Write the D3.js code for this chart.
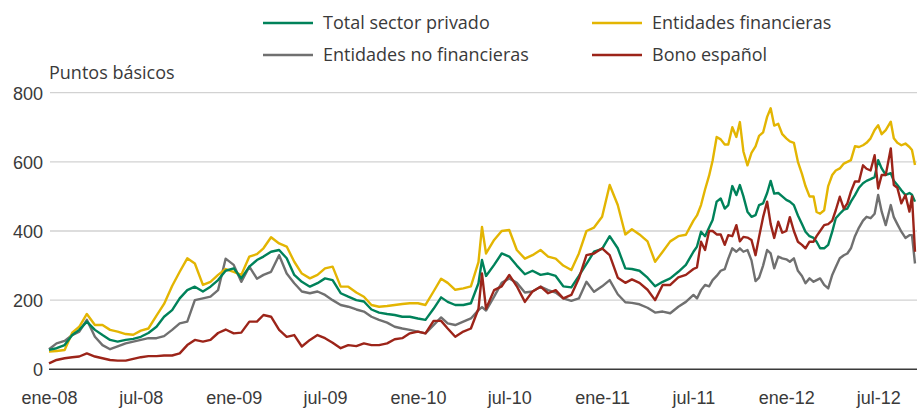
<!DOCTYPE html>
<html>
<head>
<meta charset="utf-8">
<script src="https://cdn.jsdelivr.net/npm/d3@7"></script>
<style>
  html, body { margin: 0; padding: 0; background: #fff; }
  svg { display: block; font-family: "Open Sans", sans-serif; }
  .lbl { fill: #3a3a3a; font-size: 18px; }
</style>
</head>
<body>
<svg id="chart" width="917" height="412"></svg>
<script>
// Fechas (quincenales hasta jun-11, semanales despues)
const dates = [
  // 2008
  "2008-01-01","2008-01-16","2008-02-01","2008-02-16","2008-03-01","2008-03-16","2008-04-01","2008-04-16",
  "2008-05-01","2008-05-16","2008-06-01","2008-06-16","2008-07-01","2008-07-16","2008-08-01","2008-08-16",
  "2008-09-01","2008-09-16","2008-10-01","2008-10-16","2008-11-01","2008-11-16","2008-12-01","2008-12-16",
  // 2009
  "2009-01-01","2009-01-16","2009-02-01","2009-02-16","2009-03-01","2009-03-16","2009-04-01","2009-04-16",
  "2009-05-01","2009-05-16","2009-06-01","2009-06-16","2009-07-01","2009-07-16","2009-08-01","2009-08-16",
  "2009-09-01","2009-09-16","2009-10-01","2009-10-16","2009-11-01","2009-11-16","2009-12-01","2009-12-16",
  // 2010
  "2010-01-01","2010-01-16","2010-02-01","2010-02-16","2010-03-01","2010-03-16","2010-04-01","2010-04-16",
  "2010-05-01","2010-05-08","2010-05-16","2010-06-01","2010-06-16","2010-07-01","2010-07-16","2010-08-01",
  "2010-08-16","2010-09-01","2010-09-16","2010-10-01","2010-10-16","2010-11-01","2010-11-16","2010-12-01",
  "2010-12-16",
  // 2011 H1
  "2011-01-01","2011-01-16","2011-02-01","2011-02-16","2011-03-01","2011-03-16","2011-04-01","2011-04-16",
  "2011-05-01","2011-05-16","2011-06-01","2011-06-16",
  // 2011 H2
  "2011-07-01","2011-07-08","2011-07-16","2011-07-24","2011-08-01","2011-08-08","2011-08-16","2011-08-24",
  "2011-09-01","2011-09-08","2011-09-16","2011-09-24","2011-10-01","2011-10-08","2011-10-16","2011-10-24",
  "2011-11-01","2011-11-08","2011-11-16","2011-11-24","2011-12-01","2011-12-08","2011-12-16","2011-12-24",
  // 2012
  "2012-01-01","2012-01-08","2012-01-16","2012-01-24","2012-02-01","2012-02-08","2012-02-16","2012-02-24",
  "2012-03-01","2012-03-08","2012-03-16","2012-03-24","2012-04-01","2012-04-08","2012-04-16","2012-04-24",
  "2012-05-01","2012-05-08","2012-05-16","2012-05-24","2012-06-01","2012-06-08","2012-06-16","2012-06-24",
  "2012-07-01","2012-07-08","2012-07-16","2012-07-26","2012-08-01","2012-08-08","2012-08-16","2012-08-24",
  "2012-09-01","2012-09-06","2012-09-12"
];

const totalPrivado = [
  56, 61, 70, 99, 114, 138, 114, 99, 85, 80, 85, 88, 94, 105, 123, 152, 171, 205, 229, 239, 225, 239, 258, 285,
  292, 263, 297, 316, 326, 340, 345, 321, 273, 253, 239, 249, 263, 258, 220, 210, 200, 196, 173, 164, 160, 157, 152, 152,
  147, 143, 175, 208, 195, 186, 186, 191, 249, 316, 270, 302, 335, 326, 300, 275, 285, 273, 277, 270, 240, 237, 270, 305, 340,
  348, 385, 350, 292, 290, 285, 265, 240, 253, 263, 282, 302,
  340, 355, 398, 385, 410, 432, 485, 494, 465, 475, 530, 504, 533, 500, 456, 441, 446, 475, 480, 510, 545, 508, 510, 500,
  490, 485, 475, 445, 420, 398, 385, 380, 369, 350, 350, 360, 398, 437, 450, 462, 465, 485, 504, 525, 538, 545, 550, 556,
  605, 581, 562, 567, 545, 533, 518, 504, 510, 505, 485
];

const financieras = [
  51, 53, 56, 106, 123, 160, 128, 128, 114, 109, 102, 100, 112, 118, 155, 189, 241, 282, 321, 306, 244, 253, 273, 290,
  282, 273, 326, 333, 350, 382, 364, 355, 311, 277, 263, 273, 292, 297, 239, 239, 222, 210, 186, 181, 183, 186, 189, 191,
  191, 186, 225, 262, 250, 230, 234, 240, 310, 412, 335, 374, 400, 403, 345, 320, 330, 345, 326, 320, 300, 287, 335, 400, 410,
  441, 533, 475, 390, 405, 390, 370, 311, 340, 370, 385, 389,
  430, 445, 475, 520, 560, 604, 672, 665, 650, 650, 700, 672, 715, 630, 590, 626, 645, 675, 685, 730, 755, 705, 710, 680,
  668, 659, 655, 600, 565, 530, 500, 500, 455, 450, 460, 530, 562, 575, 581, 595, 600, 605, 645, 643, 648, 655, 668, 692,
  706, 680, 692, 716, 668, 655, 648, 653, 643, 634, 591
];

const noFinancieras = [
  58, 75, 82, 99, 109, 143, 94, 70, 58, 66, 75, 80, 85, 90, 90, 96, 114, 133, 138, 200, 205, 210, 229, 320,
  302, 253, 297, 262, 273, 282, 330, 277, 249, 225, 220, 225, 215, 200, 186, 181, 173, 167, 152, 143, 135, 123, 118, 114,
  109, 104, 128, 150, 133, 128, 138, 147, 171, 180, 170, 210, 250, 263, 250, 222, 225, 239, 229, 222, 205, 198, 205, 253, 224,
  240, 258, 217, 194, 192, 188, 178, 164, 167, 162, 181, 195,
  215, 205, 229, 244, 240, 258, 270, 285, 290, 320, 350, 340, 350, 340, 345, 315, 255, 265, 300, 345, 335, 292, 326, 321,
  318, 311, 321, 285, 270, 249, 263, 253, 258, 263, 244, 234, 273, 296, 321, 330, 335, 350, 385, 410, 430, 441, 437, 450,
  504, 456, 417, 475, 440, 420, 398, 380, 388, 388, 306
];

const bonoEspanol = [
  17, 27, 32, 35, 37, 46, 37, 32, 27, 25, 25, 30, 35, 38, 38, 40, 40, 46, 70, 85, 80, 85, 105, 115,
  104, 106, 138, 138, 157, 152, 114, 94, 99, 66, 85, 99, 90, 77, 61, 70, 67, 75, 70, 70, 75, 87, 90, 104,
  109, 104, 140, 140, 118, 94, 109, 118, 175, 277, 175, 229, 240, 273, 240, 195, 225, 239, 220, 229, 205, 215, 263, 330, 335,
  350, 330, 265, 250, 260, 250, 230, 200, 244, 244, 266, 273,
  290, 295, 369, 345, 400, 400, 390, 390, 360, 388, 385, 417, 370, 383, 381, 374, 330, 383, 440, 485, 420, 380, 427, 395,
  400, 440, 400, 369, 360, 350, 369, 369, 385, 400, 417, 420, 430, 460, 499, 465, 480, 514, 543, 543, 590, 580, 575, 619,
  523, 562, 562, 639, 533, 525, 480, 504, 456, 500, 340
];

const seriesNames = ["Total sector privado", "Entidades financieras", "Entidades no financieras", "Bono español"];
const seriesColors = ["#00825a", "#e3b502", "#707070", "#9c2419"];
const yTicks = [0, 200, 400, 600, 800];
const xTickDates = ["2008-01-01","2008-07-01","2009-01-01","2009-07-01","2010-01-01","2010-07-01",
                    "2011-01-01","2011-07-01","2012-01-01","2012-07-01"];
const xTickLabels = ["ene-08","jul-08","ene-09","jul-09","ene-10","jul-10","ene-11","jul-11","ene-12","jul-12"];

const parse = d3.timeParse("%Y-%m-%d");
const svg = d3.select("#chart");

const x = d3.scaleTime()
  .domain([parse("2008-01-01"), parse("2012-09-12")])
  .range([49, 915]);
const y = d3.scaleLinear().domain([0, 800]).range([369.3, 92.7]);

// Rejilla horizontal
svg.append("g")
  .selectAll("line")
  .data(yTicks.filter(d => d > 0))
  .enter()
  .append("line")
  .attr("x1", 50).attr("x2", 917)
  .attr("y1", d => y(d)).attr("y2", d => y(d))
  .attr("stroke", "#d2d2d2")
  .attr("stroke-width", 1.3);

// Eje Y (solo etiquetas)
const yAxis = svg.append("g")
  .attr("transform", "translate(43,0)")
  .call(d3.axisLeft(y).tickValues(yTicks).tickSize(0).tickPadding(0));
yAxis.select(".domain").remove();
yAxis.selectAll("text").attr("class", "lbl").attr("font-family", null).attr("font-size", null)
  .attr("dy", "0.36em");

svg.append("text")
  .attr("class", "lbl")
  .attr("x", 49).attr("y", 79)
  .text("Puntos básicos");

// Series
const series = [totalPrivado, financieras, noFinancieras, bonoEspanol];
const line = d3.line()
  .x((d, i) => x(parse(dates[i])))
  .y(d => y(d));

// orden de dibujo: gris, amarillo, verde, rojo
[2, 1, 0, 3].forEach(k => {
  svg.append("path")
    .datum(series[k])
    .attr("fill", "none")
    .attr("stroke", seriesColors[k])
    .attr("stroke-width", 2.4)
    .attr("stroke-linejoin", "round")
    .attr("d", line);
});

// Eje X
const xAxis = svg.append("g")
  .attr("transform", `translate(0, ${y(0)})`)
  .call(d3.axisBottom(x)
    .tickValues(xTickDates.map(parse))
    .tickFormat((d, i) => xTickLabels[i])
    .tickSize(0));
xAxis.select(".domain").remove();
xAxis.selectAll("text").attr("class", "lbl").attr("font-family", null).attr("font-size", null)
  .attr("y", 35).attr("dy", 0);

svg.append("line")
  .attr("x1", 49).attr("x2", 917)
  .attr("y1", y(0)).attr("y2", y(0))
  .attr("stroke", "#3a3a3a")
  .attr("stroke-width", 1.6);

// Leyenda
const legendPos = [[263, 23], [592, 23], [263, 55], [592, 55]];
const legend = svg.append("g")
  .selectAll("g")
  .data(seriesNames)
  .enter()
  .append("g")
  .attr("transform", (d, i) => `translate(${legendPos[i][0]},${legendPos[i][1]})`);

legend.append("line")
  .attr("x1", 0).attr("x2", 50)
  .attr("stroke", (d, i) => seriesColors[i])
  .attr("stroke-width", 2.5);

legend.append("text")
  .attr("class", "lbl")
  .attr("x", 60)
  .attr("dy", "0.36em")
  .text(d => d);
</script>
</body>
</html>
